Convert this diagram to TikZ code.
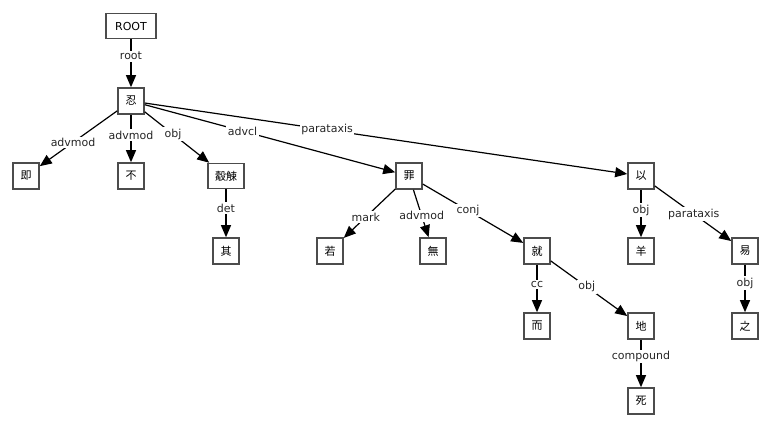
\documentclass[tikz,border=0pt]{standalone}
\usepackage{fontspec}
\setmainfont{DejaVu Sans}
\newfontfamily\cjk{Noto Sans CJK JP}
\usetikzlibrary{arrows.meta}
\tikzset{
  word/.style={draw=black!70, line width=1.6pt, fill=white, inner sep=0pt,
    minimum width=26pt, minimum height=26pt, font=\cjk\fontsize{11}{13}\selectfont},
  rel/.style={draw=black, line width=1.2pt, -{Triangle[length=12pt,width=10pt]}},
  lbl/.style={fill=white, inner sep=1.5pt, font=\fontsize{11}{13}\selectfont, text=black!85}
}
\begin{document}
\begin{tikzpicture}[x=1pt,y=-1pt]
\useasboundingbox (0,0) rectangle (772,428);
\node[word, minimum width=50pt, minimum height=25pt, font=\fontsize{11}{13}\selectfont] (root) at (131,26) {ROOT};
\node[word] (ren) at (131,101) {忍};
\node[word] (ji) at (26,176) {即};
\node[word] (bu) at (131,176) {不};
\node[word, minimum width=36pt, minimum height=25pt] (hu) at (226,176) {觳觫};
\node[word] (qi) at (226,251) {其};
\node[word] (zui) at (409,176) {罪};
\node[word] (ruo) at (330,251) {若};
\node[word] (wu) at (433,251) {無};
\node[word] (jiu) at (537,251) {就};
\node[word] (er) at (537,326) {而};
\node[word] (di) at (641,326) {地};
\node[word] (si) at (641,401) {死};
\node[word] (yi) at (641,176) {以};
\node[word] (yang) at (641,251) {羊};
\node[word] (yi2) at (745,251) {易};
\node[word] (zhi) at (745,326) {之};

\draw[rel] (root) -- node[lbl,pos=0.35] {root} (ren);
\draw[rel] (ren) -- node[lbl,pos=0.57] {advmod} (ji);
\draw[rel] (ren) -- node[lbl,pos=0.43] {advmod} (bu);
\draw[rel] (ren) -- node[lbl,pos=0.44] {obj} (hu);
\draw[rel] (ren) -- node[lbl,pos=0.39] {advcl} (zui);
\draw[rel] (ren) -- node[lbl,pos=0.378] {parataxis} (yi);
\draw[rel] (hu) -- node[lbl,pos=0.39] {det} (qi);
\draw[rel] (zui) -- node[lbl,pos=0.57] {mark} (ruo);
\draw[rel] (zui) -- node[lbl,pos=0.55] {advmod} (wu);
\draw[rel] (zui) -- node[lbl,pos=0.45] {conj} (jiu);
\draw[rel] (jiu) -- node[lbl,pos=0.41] {cc} (er);
\draw[rel] (jiu) -- node[lbl,pos=0.47] {obj} (di);
\draw[rel] (di) -- node[lbl,pos=0.35] {compound} (si);
\draw[rel] (yi) -- node[lbl,pos=0.43] {obj} (yang);
\draw[rel] (yi) -- node[lbl,pos=0.51] {parataxis} (yi2);
\draw[rel] (yi2) -- node[lbl,pos=0.39] {obj} (zhi);
\end{tikzpicture}
\end{document}
